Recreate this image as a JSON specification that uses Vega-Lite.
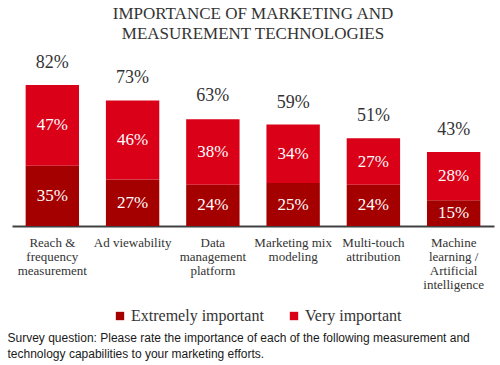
{
  "$schema": "https://vega.github.io/schema/vega-lite/v6.json",
  "width": 482,
  "height": 172,
  "autosize": "none",
  "padding": {"left": 12, "top": 54, "right": 6, "bottom": 139},
  "background": "white",
  "config": {"view": {"stroke": null}},
  "title": {
    "text": ["IMPORTANCE OF MARKETING AND", "MEASUREMENT TECHNOLOGIES"],
    "font": "Liberation Serif",
    "fontSize": 17,
    "fontWeight": "normal",
    "color": "#333333",
    "anchor": "middle",
    "lineHeight": 20,
    "offset": 11
  },
  "datasets": {
    "segments": [
      {"category": "Reach & frequency measurement", "level": "Extremely important", "rank": 1, "value": 0.35},
      {"category": "Reach & frequency measurement", "level": "Very important", "rank": 2, "value": 0.47},
      {"category": "Ad viewability", "level": "Extremely important", "rank": 1, "value": 0.27},
      {"category": "Ad viewability", "level": "Very important", "rank": 2, "value": 0.46},
      {"category": "Data management platform", "level": "Extremely important", "rank": 1, "value": 0.24},
      {"category": "Data management platform", "level": "Very important", "rank": 2, "value": 0.38},
      {"category": "Marketing mix modeling", "level": "Extremely important", "rank": 1, "value": 0.25},
      {"category": "Marketing mix modeling", "level": "Very important", "rank": 2, "value": 0.34},
      {"category": "Multi-touch attribution", "level": "Extremely important", "rank": 1, "value": 0.24},
      {"category": "Multi-touch attribution", "level": "Very important", "rank": 2, "value": 0.27},
      {"category": "Machine learning / Artificial intelligence", "level": "Extremely important", "rank": 1, "value": 0.15},
      {"category": "Machine learning / Artificial intelligence", "level": "Very important", "rank": 2, "value": 0.28}
    ],
    "totals": [
      {"category": "Reach & frequency measurement", "total": 0.82},
      {"category": "Ad viewability", "total": 0.73},
      {"category": "Data management platform", "total": 0.63},
      {"category": "Marketing mix modeling", "total": 0.59},
      {"category": "Multi-touch attribution", "total": 0.51},
      {"category": "Machine learning / Artificial intelligence", "total": 0.43}
    ]
  },
  "data": {"name": "segments"},
  "encoding": {
    "x": {
      "field": "category",
      "type": "nominal",
      "sort": null,
      "scale": {"paddingInner": 0.335, "paddingOuter": 0.17},
      "axis": {
        "title": ["Survey question: Please rate the importance of each of the following measurement and", "technology capabilities to your marketing efforts."],
        "titleFont": "Liberation Sans",
        "titleFontSize": 12,
        "titleFontWeight": "normal",
        "titleColor": "#1a1a1a",
        "titleAnchor": "start",
        "titleAlign": "left",
        "titleBaseline": "top",
        "titleLineHeight": 16,
        "titleX": -5,
        "titleY": 106,
        "labelAngle": 0,
        "labelFont": "Liberation Serif",
        "labelFontSize": 13,
        "labelColor": "#333333",
        "labelBaseline": "top",
        "labelPadding": 10,
        "labelLineHeight": 14,
        "labelLimit": 0,
        "labelExpr": "datum.label == 'Reach & frequency measurement' ? ['Reach &', 'frequency', 'measurement'] : datum.label == 'Data management platform' ? ['Data', 'management', 'platform'] : datum.label == 'Marketing mix modeling' ? ['Marketing mix', 'modeling'] : datum.label == 'Multi-touch attribution' ? ['Multi-touch', 'attribution'] : datum.label == 'Machine learning / Artificial intelligence' ? ['Machine', 'learning /', 'Artificial', 'intelligence'] : datum.label",
        "ticks": false,
        "domainColor": "#404040",
        "domainWidth": 2,
        "grid": false
      }
    }
  },
  "layer": [
    {
      "mark": {"type": "bar"},
      "encoding": {
        "y": {
          "field": "value",
          "type": "quantitative",
          "stack": "zero",
          "scale": {"domain": [0, 1], "nice": false},
          "axis": null
        },
        "color": {
          "field": "level",
          "type": "nominal",
          "scale": {"domain": ["Extremely important", "Very important"], "range": ["#A50000", "#DA0018"]},
          "legend": {
            "orient": "none",
            "legendX": 100,
            "legendY": 254,
            "padding": 0,
            "direction": "horizontal",
            "title": null,
            "symbolType": "square",
            "symbolSize": 70,
            "symbolStrokeWidth": 0,
            "labelFont": "Liberation Serif",
            "labelFontSize": 16,
            "labelColor": "#333333",
            "labelOffset": 3,
            "columnPadding": 22,
            "labelLimit": 0
          }
        },
        "order": {"field": "rank", "type": "quantitative"}
      }
    },
    {
      "mark": {"type": "text", "color": "white", "font": "Liberation Serif", "fontSize": 17, "baseline": "middle"},
      "encoding": {
        "y": {"field": "value", "type": "quantitative", "stack": "zero", "bandPosition": 0.5},
        "detail": {"field": "level"},
        "order": {"field": "rank", "type": "quantitative"},
        "text": {"field": "value", "type": "quantitative", "format": ".0%"}
      }
    },
    {
      "data": {"name": "totals"},
      "mark": {"type": "text", "color": "#333333", "font": "Liberation Serif", "fontSize": 18, "baseline": "middle", "dy": -22},
      "encoding": {
        "y": {"field": "total", "type": "quantitative"},
        "text": {"field": "total", "type": "quantitative", "format": ".0%"}
      }
    }
  ]
}
